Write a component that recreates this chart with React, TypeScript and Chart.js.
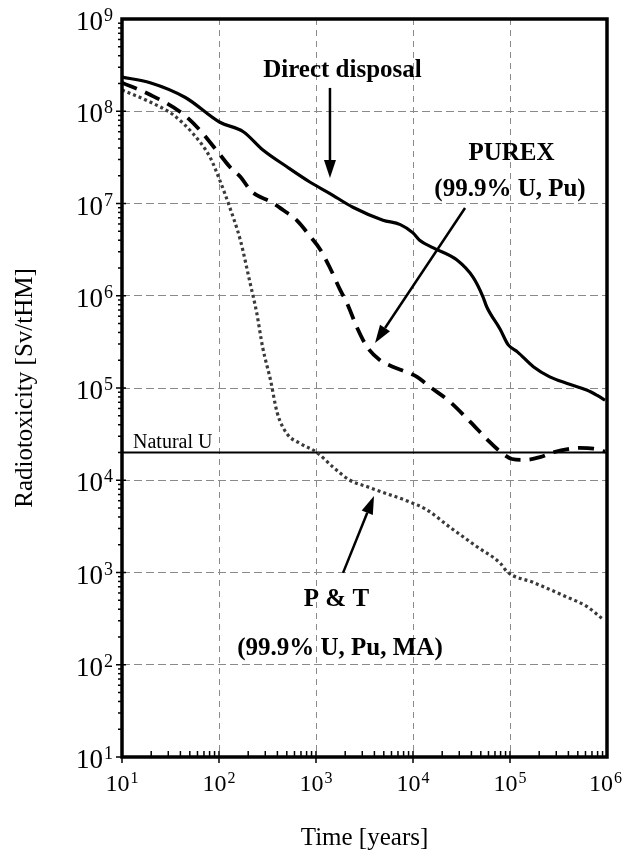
import React, { useEffect, useRef } from 'react';
import { Chart, registerables } from 'chart.js';

Chart.register(...registerables);

// ---------- Axis ticks (base 10 with exponent) ----------
const X_TICKS = [1e1, 1e2, 1e3, 1e4, 1e5, 1e6];
const X_TICK_EXPONENTS = ['1', '2', '3', '4', '5', '6'];
const Y_TICKS = [1e1, 1e2, 1e3, 1e4, 1e5, 1e6, 1e7, 1e8, 1e9];
const Y_TICK_EXPONENTS = ['1', '2', '3', '4', '5', '6', '7', '8', '9'];
const TICK_BASE = '10';

const X_TITLE = 'Time [years]';
const Y_TITLE = 'Radiotoxicity [Sv/tHM]';

// ---------- Series: Direct disposal (solid) ----------
const DIRECT_T = [10, 19.5, 45, 102, 178, 284, 501, 871, 1380, 2400, 4900, 7400, 10000, 11700, 16200, 28200, 41700, 52500, 57500, 79400, 95500, 120000, 174000, 257000, 389000, 617000, 794000, 955000];
const DIRECT_V = [2.34e8, 2.04e8, 1.41e8, 7.6e7, 6.0e7, 3.8e7, 2.5e7, 1.7e7, 1.29e7, 9.1e6, 6.6e6, 5.9e6, 4.8e6, 4.0e6, 3.3e6, 2.45e6, 1.58e6, 9.8e5, 7.6e5, 4.3e5, 2.95e5, 2.45e5, 1.7e5, 1.32e5, 1.12e5, 9.5e4, 8.3e4, 7.4e4];

// ---------- Series: PUREX (dashed) ----------
const PUREX_T = [10, 19.5, 41.7, 63, 102, 129, 166, 209, 245, 339, 457, 631, 871, 1100, 1380, 1780, 2090, 2630, 3390, 4570, 6170, 8710, 11000, 15100, 24000, 38900, 61700, 79400, 105000, 141000, 204000, 275000, 417000, 525000, 724000, 955000];
const PUREX_V = [2.04e8, 1.51e8, 9.5e7, 6.3e7, 3.4e7, 2.5e7, 1.95e7, 1.41e7, 1.23e7, 1.05e7, 8.5e6, 6.6e6, 4.4e6, 3.2e6, 2.05e6, 1.15e6, 8.3e5, 4.6e5, 2.75e5, 2.0e5, 1.7e5, 1.48e5, 1.32e5, 1.02e5, 7.1e4, 4.3e4, 2.6e4, 2.04e4, 1.7e4, 1.66e4, 1.78e4, 2.0e4, 2.2e4, 2.24e4, 2.2e4, 2.04e4];

// ---------- Series: P & T (dotted) ----------
const PT_T = [10, 19.5, 33.9, 53.7, 81, 102, 129, 166, 209, 245, 282, 339, 398, 501, 692, 1020, 1510, 2240, 3390, 4900, 9330, 13800, 24000, 45700, 79400, 93300, 174000, 389000, 617000, 912000];
const PT_V = [1.7e8, 1.26e8, 9.1e7, 5.75e7, 3.16e7, 1.78e7, 9.1e6, 4.0e6, 1.38e6, 6.5e5, 2.75e5, 1.23e5, 5.4e4, 3.2e4, 2.5e4, 2.0e4, 1.38e4, 1.0e4, 8.5e3, 7.4e3, 5.8e3, 4.8e3, 3.1e3, 1.9e3, 1.26e3, 1.02e3, 7.8e2, 5.4e2, 4.3e2, 3.1e2];

// ---------- Natural uranium reference level ----------
const NATURAL_U_T = [10, 1e6];
const NATURAL_U_LEVEL = 2.0e4;
const NATURAL_U_LABEL = 'Natural U';

// ---------- Annotations (data coordinates) ----------
const TEXTS = [
  { text: 'Direct disposal', x: 1875, y: 2.73e8 },
  { text: 'PUREX', x: 1.035e5, y: 3.44e7 },
  { text: '(99.9% U, Pu)', x: 1.0e5, y: 1.4e7 },
  { text: 'P & T', x: 1626, y: 504 },
  { text: '(99.9% U, Pu, MA)', x: 1766, y: 148 },
];
const ARROWS = [
  { from: [1393, 1.79e8], to: [1393, 1.89e7] },
  { from: [34400, 8.93e6], to: [4060, 3.08e5] },
  { from: [1900, 990], to: [3960, 6750] },
];

const SERIF = '"Liberation Serif", "Times New Roman", serif';

const isDecade = (v: number) => {
  const l = Math.log10(v);
  return Math.abs(l - Math.round(l)) < 1e-9;
};

const decorPlugin = {
  id: 'decor',
  afterDatasetsDraw(chart: any) {
    const { ctx, chartArea: a, scales } = chart;
    const xs = scales.x;
    const ys = scales.y;
    ctx.save();
    // minor / major tick marks
    ctx.strokeStyle = '#000';
    ctx.lineWidth = 1.5;
    for (let e = 1; e < 6; e++) {
      for (let m = 1; m <= 9; m++) {
        const v = m * Math.pow(10, e);
        const px = xs.getPixelForValue(v);
        ctx.beginPath();
        ctx.moveTo(px, a.bottom - 6);
        ctx.lineTo(px, m === 1 ? a.bottom + 6 : a.bottom);
        ctx.stroke();
      }
    }
    for (let e = 1; e < 9; e++) {
      for (let m = 1; m <= 9; m++) {
        const v = m * Math.pow(10, e);
        const py = ys.getPixelForValue(v);
        ctx.beginPath();
        if (m === 1) {
          ctx.moveTo(a.left - 6, py);
          ctx.lineTo(a.left + 4, py);
        } else {
          ctx.moveTo(a.left - 4, py);
          ctx.lineTo(a.left, py);
        }
        ctx.stroke();
      }
    }
    // frame
    ctx.lineWidth = 3.5;
    ctx.strokeRect(a.left, a.top, a.right - a.left, a.bottom - a.top);

    ctx.fillStyle = '#000';

    // tick labels with superscript exponents
    ctx.textBaseline = 'alphabetic';
    // x axis
    X_TICKS.forEach((v, i) => {
      const px = xs.getPixelForValue(v);
      ctx.font = `24px ${SERIF}`;
      const wb = ctx.measureText(TICK_BASE).width;
      ctx.font = `16px ${SERIF}`;
      const we = ctx.measureText(X_TICK_EXPONENTS[i]).width;
      const start = Math.min(px - (wb + 1 + we) / 2, chart.width - (wb + 1 + we));
      ctx.font = `24px ${SERIF}`;
      ctx.textAlign = 'left';
      ctx.fillText(TICK_BASE, start, a.bottom + 34);
      ctx.font = `16px ${SERIF}`;
      ctx.fillText(X_TICK_EXPONENTS[i], start + wb + 1, a.bottom + 26);
    });
    // y axis
    Y_TICKS.forEach((v, i) => {
      const py = ys.getPixelForValue(v);
      const right = a.left - 9;
      ctx.font = `18px ${SERIF}`;
      ctx.textAlign = 'right';
      const we = ctx.measureText(Y_TICK_EXPONENTS[i]).width;
      ctx.fillText(Y_TICK_EXPONENTS[i], right, py + 2);
      ctx.font = `27px ${SERIF}`;
      ctx.fillText(TICK_BASE, right - we - 1, py + 11);
    });

    // Natural U label
    ctx.font = `20px ${SERIF}`;
    ctx.textAlign = 'left';
    ctx.fillText(NATURAL_U_LABEL, xs.getPixelForValue(13), ys.getPixelForValue(NATURAL_U_LEVEL) - 4);

    // arrows
    ctx.lineWidth = 2.5;
    for (const ar of ARROWS) {
      const x1 = xs.getPixelForValue(ar.from[0]);
      const y1 = ys.getPixelForValue(ar.from[1]);
      const x2 = xs.getPixelForValue(ar.to[0]);
      const y2 = ys.getPixelForValue(ar.to[1]);
      const ang = Math.atan2(y2 - y1, x2 - x1);
      const hl = 18;
      const hw = 6;
      const bx = x2 - hl * Math.cos(ang);
      const by = y2 - hl * Math.sin(ang);
      ctx.beginPath();
      ctx.moveTo(x1, y1);
      ctx.lineTo(bx, by);
      ctx.stroke();
      ctx.beginPath();
      ctx.moveTo(x2, y2);
      ctx.lineTo(bx + hw * Math.sin(ang), by - hw * Math.cos(ang));
      ctx.lineTo(bx - hw * Math.sin(ang), by + hw * Math.cos(ang));
      ctx.closePath();
      ctx.fill();
    }

    // annotation texts
    ctx.font = `bold 25px ${SERIF}`;
    ctx.textAlign = 'center';
    ctx.textBaseline = 'middle';
    for (const t of TEXTS) {
      ctx.fillText(t.text, xs.getPixelForValue(t.x), ys.getPixelForValue(t.y));
    }
    ctx.restore();
  },
};

export default function App() {
  const ref = useRef<HTMLCanvasElement | null>(null);

  useEffect(() => {
    document.body.style.margin = '0';
    const canvas = ref.current;
    if (!canvas) return;
    const toPts = (t: number[], v: number[]) => t.map((x, i) => ({ x, y: v[i] }));
    const chart = new Chart(canvas, {
      type: 'line',
      data: {
        datasets: [
          {
            label: 'Direct disposal',
            data: toPts(DIRECT_T, DIRECT_V),
            borderColor: '#000',
            borderWidth: 3.2,
            pointRadius: 0,
            cubicInterpolationMode: 'monotone',
            fill: false,
          },
          {
            label: 'PUREX (99.9% U, Pu)',
            data: toPts(PUREX_T, PUREX_V),
            borderColor: '#000',
            borderWidth: 3.8,
            borderDash: [16, 9],
            pointRadius: 0,
            cubicInterpolationMode: 'monotone',
            fill: false,
          },
          {
            label: 'P & T (99.9% U, Pu, MA)',
            data: toPts(PT_T, PT_V),
            borderColor: '#3a3a3a',
            borderWidth: 3.2,
            borderDash: [3, 3],
            pointRadius: 0,
            cubicInterpolationMode: 'monotone',
            fill: false,
          },
          {
            label: NATURAL_U_LABEL,
            data: NATURAL_U_T.map((x) => ({ x, y: NATURAL_U_LEVEL })),
            borderColor: '#000',
            borderWidth: 2,
            pointRadius: 0,
            fill: false,
          },
        ],
      },
      options: {
        animation: false,
        responsive: false,
        devicePixelRatio: 1,
        layout: { padding: { top: 19, right: 15, left: 0, bottom: 0 } },
        plugins: {
          legend: { display: false },
          tooltip: { enabled: false },
        },
        scales: {
          x: {
            type: 'logarithmic',
            min: 10,
            max: 1e6,
            afterBuildTicks: (s: any) => {
              s.ticks = X_TICKS.map((v) => ({ value: v }));
            },
            afterFit: (s: any) => {
              s.height = 95;
              s.paddingLeft = 0;
              s.paddingRight = 0;
            },
            ticks: { display: false, autoSkip: false, maxRotation: 0 },
            grid: {
              drawTicks: false,
              color: (c: any) => (c.tick && isDecade(c.tick.value) ? '#8a8a8a' : 'transparent'),
              lineWidth: 1,
            },
            border: { display: false, dash: [6, 5] },
            title: {
              display: true,
              text: X_TITLE,
              color: '#000',
              font: { family: SERIF, size: 25, lineHeight: 1 },
              padding: { top: 0, bottom: 1 },
            },
          },
          y: {
            type: 'logarithmic',
            min: 10,
            max: 1e9,
            afterBuildTicks: (s: any) => {
              s.ticks = Y_TICKS.map((v) => ({ value: v }));
            },
            afterFit: (s: any) => {
              s.width = 122;
              s.paddingTop = 0;
              s.paddingBottom = 0;
            },
            ticks: { display: false, autoSkip: false },
            grid: {
              drawTicks: false,
              color: (c: any) => (c.tick && isDecade(c.tick.value) ? '#8a8a8a' : 'transparent'),
              lineWidth: 1,
            },
            border: { display: false, dash: [8, 4] },
            title: {
              display: true,
              text: Y_TITLE,
              color: '#000',
              font: { family: SERIF, size: 25, lineHeight: 1.2 },
              padding: { top: 10, bottom: 0 },
            },
          },
        },
      },
      plugins: [decorPlugin],
    } as any);
    return () => chart.destroy();
  }, []);

  return <canvas ref={ref} width={622} height={852} style={{ display: 'block' }} />;
}
